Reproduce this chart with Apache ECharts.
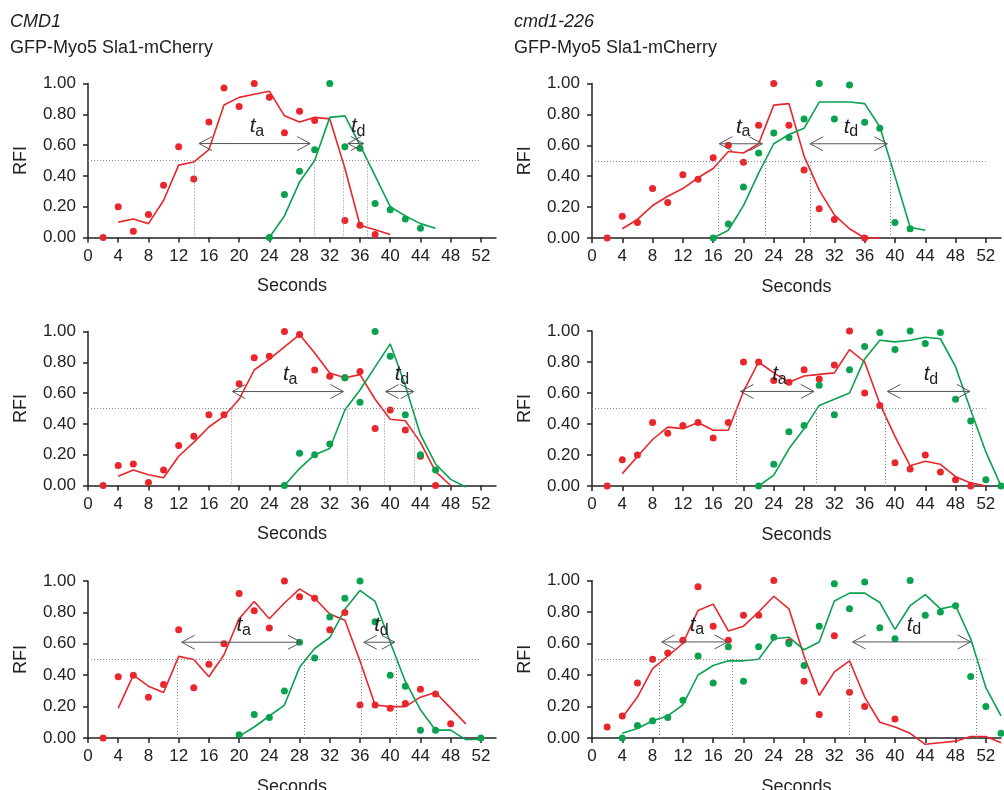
<!DOCTYPE html>
<html>
<head>
<meta charset="utf-8">
<script src="https://cdn.jsdelivr.net/npm/echarts@6/dist/echarts.min.js"></script>
<style>
  html, body { margin: 0; padding: 0; background: #fff; }
  #chart { width: 1004px; height: 790px; }
</style>
</head>
<body>
<div id="chart"></div>
<script>
// column headers
const strainTitles = ['CMD1', 'cmd1-226'];
const markerTitle = 'GFP-Myo5 Sla1-mCherry';
const xTicks = [0, 4, 8, 12, 16, 20, 24, 28, 32, 36, 40, 44, 48, 52];
const thresholdLevel = 0.5;
const arrowLevel = 0.61;

// panel 1 - CMD1, top
const p1RedDots = [[2,0.00],[4,0.20],[6,0.04],[8,0.15],[10,0.34],[12,0.59],[14,0.38],[16,0.75],[18,0.97],[20,0.85],[22,1.00],[24,0.91],[26,0.68],[28,0.82],[30,0.76],[34,0.11],[36,0.08],[38,0.02]];
const p1RedLine = [[4,0.10],[6,0.12],[8,0.09],[10,0.24],[12,0.47],[14,0.49],[16,0.57],[18,0.86],[20,0.91],[22,0.93],[24,0.95],[26,0.79],[28,0.75],[30,0.78],[32,0.77],[34,0.45],[36,0.08],[38,0.05],[40,0.02]];
const p1GreenDots = [[24,0.00],[26,0.28],[28,0.43],[30,0.57],[32,1.00],[34,0.59],[36,0.58],[38,0.22],[40,0.18],[42,0.12],[44,0.06]];
const p1GreenLine = [[24,0.00],[26,0.14],[28,0.36],[30,0.50],[32,0.78],[34,0.79],[36,0.60],[38,0.40],[40,0.20],[42,0.14],[44,0.09],[46,0.06]];
const p1Cross = [14.1, 29.9, 33.8, 37.0];
const p1Arrows = [[14.7, 29.4], [34.4, 36.5]];

// panel 2 - cmd1-226, top
const p2RedDots = [[2,0.00],[4,0.14],[6,0.10],[8,0.32],[10,0.23],[12,0.41],[14,0.38],[16,0.52],[18,0.60],[20,0.49],[22,0.73],[24,1.00],[26,0.73],[28,0.44],[30,0.19],[32,0.12],[36,0.00]];
const p2RedLine = [[4,0.06],[6,0.12],[8,0.21],[10,0.27],[12,0.32],[14,0.39],[16,0.45],[18,0.56],[20,0.55],[22,0.61],[24,0.86],[26,0.87],[28,0.53],[30,0.31],[32,0.15],[34,0.06],[36,0.00],[38,0.00]];
const p2GreenDots = [[16,0.00],[18,0.09],[20,0.33],[22,0.55],[24,0.68],[26,0.65],[28,0.77],[30,1.00],[32,0.77],[34,0.99],[36,0.75],[38,0.71],[40,0.10],[42,0.06]];
const p2GreenLine = [[16,0.00],[18,0.05],[20,0.21],[22,0.42],[24,0.61],[26,0.67],[28,0.71],[30,0.88],[32,0.88],[34,0.88],[36,0.87],[38,0.72],[40,0.40],[42,0.07],[44,0.05]];
const p2Cross = [16.7, 22.9, 28.75, 39.4];
const p2Arrows = [[16.8, 22.5], [28.8, 39.0]];

// panel 3 - CMD1, middle
const p3RedDots = [[2,0.00],[4,0.13],[6,0.14],[8,0.02],[10,0.10],[12,0.26],[14,0.32],[16,0.46],[18,0.46],[20,0.66],[22,0.83],[24,0.84],[26,1.00],[28,0.98],[30,0.75],[32,0.71],[34,0.70],[36,0.74],[38,0.37],[40,0.49],[42,0.36],[44,0.19],[46,0.00]];
const p3RedLine = [[4,0.06],[6,0.10],[8,0.07],[10,0.05],[12,0.19],[14,0.28],[16,0.38],[18,0.45],[20,0.56],[22,0.75],[24,0.82],[26,0.90],[28,0.98],[30,0.86],[32,0.73],[34,0.70],[36,0.72],[38,0.56],[40,0.43],[42,0.42],[44,0.28],[46,0.09],[48,0.00]];
const p3GreenDots = [[26,0.00],[28,0.21],[30,0.20],[32,0.27],[34,0.70],[36,0.54],[38,1.00],[40,0.84],[42,0.46],[44,0.20],[46,0.10]];
const p3GreenLine = [[26,0.00],[28,0.11],[30,0.20],[32,0.24],[34,0.49],[36,0.62],[38,0.77],[40,0.92],[42,0.65],[44,0.33],[46,0.14],[48,0.04],[50,-0.01]];
const p3Cross = [19.0, 34.3, 39.2, 43.2];
const p3Arrows = [[19.1, 33.8], [39.4, 43.1]];

// panel 4 - cmd1-226, middle
const p4RedDots = [[2,0.00],[4,0.17],[6,0.20],[8,0.41],[10,0.34],[12,0.39],[14,0.41],[16,0.31],[18,0.41],[20,0.80],[22,0.80],[24,0.68],[26,0.67],[28,0.75],[30,0.69],[32,0.78],[34,1.00],[36,0.60],[38,0.52],[40,0.15],[42,0.11],[44,0.20],[46,0.09],[48,0.04],[50,0.00]];
const p4RedLine = [[4,0.08],[6,0.19],[8,0.30],[10,0.38],[12,0.37],[14,0.41],[16,0.36],[18,0.36],[20,0.61],[22,0.80],[24,0.73],[26,0.67],[28,0.71],[30,0.72],[32,0.73],[34,0.88],[36,0.80],[38,0.53],[40,0.32],[42,0.13],[44,0.16],[46,0.14],[48,0.06],[50,0.02],[52,0.00]];
const p4GreenDots = [[22,0.00],[24,0.14],[26,0.35],[28,0.39],[30,0.65],[32,0.46],[34,0.75],[36,0.90],[38,0.99],[40,0.88],[42,1.00],[44,0.92],[46,0.99],[48,0.56],[50,0.42],[52,0.04],[54,0.00]];
const p4GreenLine = [[22,0.00],[24,0.07],[26,0.24],[28,0.37],[30,0.52],[32,0.56],[34,0.60],[36,0.82],[38,0.94],[40,0.93],[42,0.94],[44,0.96],[46,0.95],[48,0.77],[50,0.49],[52,0.22],[54,0.00]];
const p4Cross = [19.1, 29.6, 38.7, 50.2];
const p4Arrows = [[19.6, 29.3], [39.0, 49.9]];

// panel 5 - CMD1, bottom
const p5RedDots = [[2,0.00],[4,0.39],[6,0.40],[8,0.26],[10,0.34],[12,0.69],[14,0.32],[16,0.47],[18,0.60],[20,0.92],[22,0.81],[24,0.70],[26,1.00],[28,0.90],[30,0.89],[32,0.69],[34,0.80],[36,0.21],[38,0.21],[40,0.19],[42,0.22],[44,0.31],[46,0.28],[48,0.09]];
const p5RedLine = [[4,0.19],[6,0.40],[8,0.33],[10,0.29],[12,0.52],[14,0.50],[16,0.39],[18,0.53],[20,0.76],[22,0.87],[24,0.76],[26,0.86],[28,0.95],[30,0.89],[32,0.79],[34,0.75],[36,0.49],[38,0.21],[40,0.20],[42,0.20],[44,0.26],[46,0.29],[48,0.19],[50,0.09]];
const p5GreenDots = [[20,0.02],[22,0.15],[24,0.13],[26,0.30],[28,0.61],[30,0.51],[32,0.77],[34,0.89],[36,1.00],[38,0.74],[40,0.40],[42,0.33],[44,0.05],[46,0.05],[52,0.00]];
const p5GreenLine = [[20,0.01],[22,0.07],[24,0.14],[26,0.21],[28,0.45],[30,0.57],[32,0.64],[34,0.82],[36,0.94],[38,0.87],[40,0.61],[42,0.36],[44,0.18],[46,0.05],[48,0.05],[50,-0.01],[52,-0.01]];
const p5Cross = [11.8, 28.6, 36.1, 40.8];
const p5Arrows = [[12.4, 28.2], [36.5, 40.6]];

// panel 6 - cmd1-226, bottom
const p6RedDots = [[2,0.07],[4,0.14],[6,0.35],[8,0.50],[10,0.54],[12,0.62],[14,0.96],[16,0.71],[18,0.62],[20,0.78],[22,0.78],[24,1.00],[26,0.61],[28,0.36],[30,0.15],[32,0.65],[34,0.29],[36,0.20],[40,0.12]];
const p6RedLine = [[4,0.13],[6,0.26],[8,0.44],[10,0.52],[12,0.60],[14,0.81],[16,0.85],[18,0.68],[20,0.71],[22,0.80],[24,0.90],[26,0.82],[28,0.52],[30,0.27],[32,0.42],[34,0.49],[36,0.26],[38,0.10],[40,0.07],[42,0.03],[44,-0.04],[46,-0.03],[48,-0.02],[50,0.01],[52,0.01],[54,-0.03]];
const p6GreenDots = [[4,0.00],[6,0.08],[8,0.11],[10,0.13],[12,0.24],[14,0.52],[16,0.35],[18,0.58],[20,0.36],[22,0.58],[24,0.64],[26,0.60],[28,0.46],[30,0.71],[32,0.98],[34,0.82],[36,0.99],[38,0.70],[40,0.63],[42,1.00],[44,0.78],[46,0.80],[48,0.84],[50,0.39],[52,0.20],[54,0.03]];
const p6GreenLine = [[4,0.03],[6,0.06],[8,0.11],[10,0.14],[12,0.21],[14,0.40],[16,0.46],[18,0.49],[20,0.49],[22,0.50],[24,0.63],[26,0.64],[28,0.56],[30,0.61],[32,0.87],[34,0.92],[36,0.92],[38,0.86],[40,0.69],[42,0.84],[44,0.91],[46,0.82],[48,0.84],[50,0.63],[52,0.32],[54,0.14]];
const p6Cross = [8.9, 18.5, 33.9, 50.7];
const p6Arrows = [[9.2, 17.9], [34.4, 50.0]];

const RED = '#e8262b';
const GREEN = '#0aa14f';
const INK = '#222';
const FONT = '"Liberation Sans", Arial, Helvetica, sans-serif';

const panels = [
  [p1RedDots, p1RedLine, p1GreenDots, p1GreenLine, p1Cross, p1Arrows],
  [p2RedDots, p2RedLine, p2GreenDots, p2GreenLine, p2Cross, p2Arrows],
  [p3RedDots, p3RedLine, p3GreenDots, p3GreenLine, p3Cross, p3Arrows],
  [p4RedDots, p4RedLine, p4GreenDots, p4GreenLine, p4Cross, p4Arrows],
  [p5RedDots, p5RedLine, p5GreenDots, p5GreenLine, p5Cross, p5Arrows],
  [p6RedDots, p6RedLine, p6GreenDots, p6GreenLine, p6Cross, p6Arrows]
];

// grid boxes; the v6 outer-bounds squeeze is switched off so the
// bottom row keeps its size and its axis name runs off the page
const grids = [
  { left: 88, top: 83.5, width: 408, height: 154 },
  { left: 592, top: 83.5, width: 409, height: 154.5 },
  { left: 88, top: 331.5, width: 408, height: 154 },
  { left: 592, top: 331, width: 409, height: 155 },
  { left: 88, top: 581, width: 408, height: 157 },
  { left: 592, top: 580.5, width: 409, height: 157.5 }
].map(g => Object.assign(g, { containLabel: false, outerBoundsMode: 'none' }));

function arrowRender(params, api) {
  const y = api.value(2);
  const a = api.coord([api.value(0), y]);
  const b = api.coord([api.value(1), y]);
  const sub = api.value(3) === 0 ? 'a' : 'd';
  const mid = (a[0] + b[0]) / 2;
  const st = { stroke: '#555', lineWidth: 1, fill: 'none' };
  return {
    type: 'group',
    children: [
      { type: 'line', shape: { x1: a[0], y1: a[1], x2: b[0], y2: b[1] }, style: st },
      { type: 'polyline', shape: { points: [[a[0] + 13, a[1] - 7], [a[0], a[1]], [a[0] + 13, a[1] + 7]] }, style: st },
      { type: 'polyline', shape: { points: [[b[0] - 13, b[1] - 7], [b[0], b[1]], [b[0] - 13, b[1] + 7]] }, style: st },
      { type: 'text', x: mid - 2, y: a[1] - 17, style: { text: 't', font: 'italic 21px ' + FONT, fill: INK, align: 'center', verticalAlign: 'middle' } },
      { type: 'text', x: mid + 5, y: a[1] - 12, style: { text: sub, font: '16px ' + FONT, fill: INK, align: 'center', verticalAlign: 'middle' } }
    ]
  };
}

const xAxes = [];
const yAxes = [];
const series = [];
panels.forEach((p, i) => {
  const [redDots, redLine, greenDots, greenLine, cross, arrows] = p;
  xAxes.push({
    gridIndex: i, type: 'value', min: 0, max: 54,
    name: 'Seconds', nameLocation: 'middle', nameGap: 40,
    nameTextStyle: { fontSize: 18, color: INK, fontFamily: FONT },
    axisLine: { show: true, lineStyle: { color: INK, width: 1.5 } },
    axisTick: { show: true, length: 5, customValues: xTicks, lineStyle: { color: INK, width: 1.5 } },
    axisLabel: { customValues: xTicks, fontSize: 17, color: INK, margin: 10, fontFamily: FONT },
    splitLine: { show: false }
  });
  yAxes.push({
    gridIndex: i, type: 'value', min: 0, max: 1, interval: 0.2,
    name: 'RFI', nameLocation: 'middle', nameRotate: 90, nameGap: 58,
    nameTextStyle: { fontSize: 18, color: INK, fontFamily: FONT },
    axisLine: { show: true, lineStyle: { color: INK, width: 1.5 } },
    axisTick: { show: true, length: 5, lineStyle: { color: INK, width: 1.5 } },
    axisLabel: { fontSize: 17, color: INK, margin: 12, fontFamily: FONT, formatter: v => v.toFixed(2) },
    splitLine: { show: false }
  });
  const marks = [[{ coord: [0, thresholdLevel] }, { coord: [52, thresholdLevel] }]];
  cross.forEach(x => marks.push([{ coord: [x, 0] }, { coord: [x, thresholdLevel] }]));
  series.push({
    type: 'line', xAxisIndex: i, yAxisIndex: i, data: redLine, showSymbol: false, clip: false,
    lineStyle: { color: RED, width: 1.6 }, z: 3,
    markLine: {
      silent: true, symbol: 'none', label: { show: false },
      lineStyle: { color: '#888', width: 1, type: [1, 2] },
      data: marks
    }
  });
  series.push({
    type: 'line', xAxisIndex: i, yAxisIndex: i, data: greenLine, showSymbol: false, clip: false,
    lineStyle: { color: GREEN, width: 1.6 }, z: 3
  });
  series.push({
    type: 'scatter', xAxisIndex: i, yAxisIndex: i, data: redDots, symbolSize: 7,
    itemStyle: { color: RED, opacity: 1 }, z: 4
  });
  series.push({
    type: 'scatter', xAxisIndex: i, yAxisIndex: i, data: greenDots, symbolSize: 7,
    itemStyle: { color: GREEN, opacity: 1 }, z: 5
  });
  series.push({
    type: 'custom', xAxisIndex: i, yAxisIndex: i, silent: true, z: 6,
    data: arrows.map((a, k) => [a[0], a[1], arrowLevel, k]),
    encode: { x: [0, 1], y: 2 },
    renderItem: arrowRender
  });
});

const graphic = [];
strainTitles.forEach((t, c) => {
  const x = c === 0 ? 10 : 514;
  graphic.push({ type: 'text', x: x, y: 22, style: { text: t, font: 'italic 18px ' + FONT, fill: INK, verticalAlign: 'middle' } });
  graphic.push({ type: 'text', x: x, y: 48, style: { text: markerTitle, font: '18px ' + FONT, fill: INK, verticalAlign: 'middle' } });
});

const chart = echarts.init(document.getElementById('chart'));
chart.setOption({
  animation: false,
  backgroundColor: '#fff',
  textStyle: { fontFamily: FONT },
  grid: grids,
  xAxis: xAxes,
  yAxis: yAxes,
  graphic: graphic,
  series: series
});
</script>
</body>
</html>
